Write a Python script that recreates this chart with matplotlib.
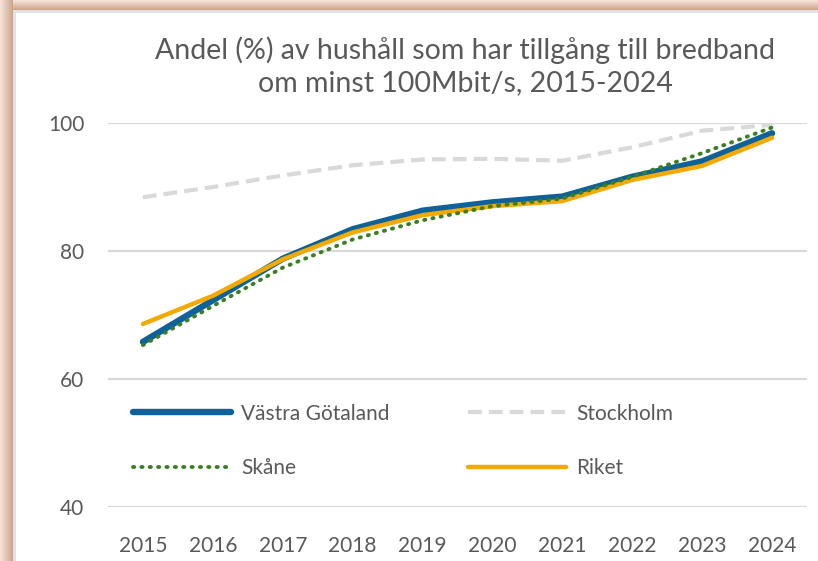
import numpy as np
import matplotlib
matplotlib.use("Agg")
import matplotlib.pyplot as plt

years = ["2015", "2016", "2017", "2018", "2019", "2020", "2021", "2022", "2023", "2024"]
vastra_gotaland = [65.8, 72.3, 78.8, 83.4, 86.3, 87.6, 88.5, 91.6, 94.0, 98.4]
stockholm = [88.4, 90.0, 91.8, 93.4, 94.3, 94.4, 94.1, 96.2, 98.8, 99.7]
skane = [65.3, 71.4, 77.4, 81.8, 84.8, 87.0, 88.2, 91.6, 95.3, 99.3]
riket = [68.6, 73.0, 78.7, 82.9, 85.6, 87.0, 87.8, 91.1, 93.3, 97.7]
yticks = [40, 60, 80, 100]
title = "Andel (%) av hushåll som har tillgång till bredband\nom minst 100Mbit/s, 2015-2024"

plt.rcParams['font.family'] = ['Lato', 'DejaVu Sans']
TXT = "#595959"

W, H = 818, 561
fig = plt.figure(figsize=(W / 100, H / 100), dpi=100)

# frame / shadow background
bg = np.ones((H, W, 3))
light = np.array([0.96, 0.89, 0.85])
dark = np.array([0.81, 0.65, 0.55])
sw_l, sw_t = 13, 10
for i in range(sw_l):
    t = i / (sw_l - 1)
    bg[:, i, :] = light * (1 - t) + dark * t
for j in range(sw_t):
    t = j / (sw_t - 1)
    col = light * (1 - t) + dark * t
    bg[j, sw_l:, :] = col
gray = np.array([0.89, 0.89, 0.89])
bg[sw_t:sw_t + 3, sw_l:, :] = gray
bg[sw_t:, sw_l:sw_l + 3, :] = gray
ax_bg = fig.add_axes([0, 0, 1, 1], zorder=-1)
ax_bg.imshow(bg, aspect='auto', interpolation='nearest')
ax_bg.axis('off')

left, right, top, bottom = 108, 807, 123, 507
ax = fig.add_axes([left / W, (H - bottom) / H, (right - left) / W, (bottom - top) / H])
ax.set_facecolor('none')
x = np.arange(len(years))

l_vg, = ax.plot(x, vastra_gotaland, color="#0E6199", lw=4.6, solid_capstyle='round',
                solid_joinstyle='round', label="Västra Götaland", zorder=3)
l_st, = ax.plot(x, stockholm, color="#D9D9D9", lw=3.0, linestyle=(0, (3.3, 1.7)),
                label="Stockholm", zorder=2)
l_sk, = ax.plot(x, skane, color="#3B7F23", lw=2.8, linestyle=(0, (0.3, 1.85)),
                dash_capstyle='round', label="Skåne", zorder=5)
l_ri, = ax.plot(x, riket, color="#F2AA00", lw=3.2, solid_capstyle='round',
                solid_joinstyle='round', label="Riket", zorder=4)

ax.set_xlim(-0.5, len(years) - 0.5)
ax.set_ylim(40, 100)
ax.set_yticks(yticks)
ax.set_xticks(x)
ax.set_xticklabels(years)
ax.grid(axis='y', color="#D9D9D9", lw=1.6, zorder=0)
ax.set_axisbelow(True)
for s in ax.spines.values():
    s.set_visible(False)
ax.tick_params(axis='both', length=0, labelsize=15, colors=TXT)
ax.tick_params(axis='y', pad=17)
ax.tick_params(axis='x', pad=21)

leg = ax.legend(handles=[l_vg, l_sk, l_st, l_ri], ncol=2, frameon=False,
                loc='upper left', bbox_to_anchor=(0.021, 0.296),
                fontsize=15, handlelength=4.7, handletextpad=0.5,
                columnspacing=3.75, labelspacing=1.65, borderpad=0)
for t in leg.get_texts():
    t.set_color(TXT)

fig.text(465 / W, 1 - 66 / H, title, ha='center', va='center', fontsize=20.5,
         color=TXT, linespacing=1.3)

fig.savefig("out.png", dpi=100)
